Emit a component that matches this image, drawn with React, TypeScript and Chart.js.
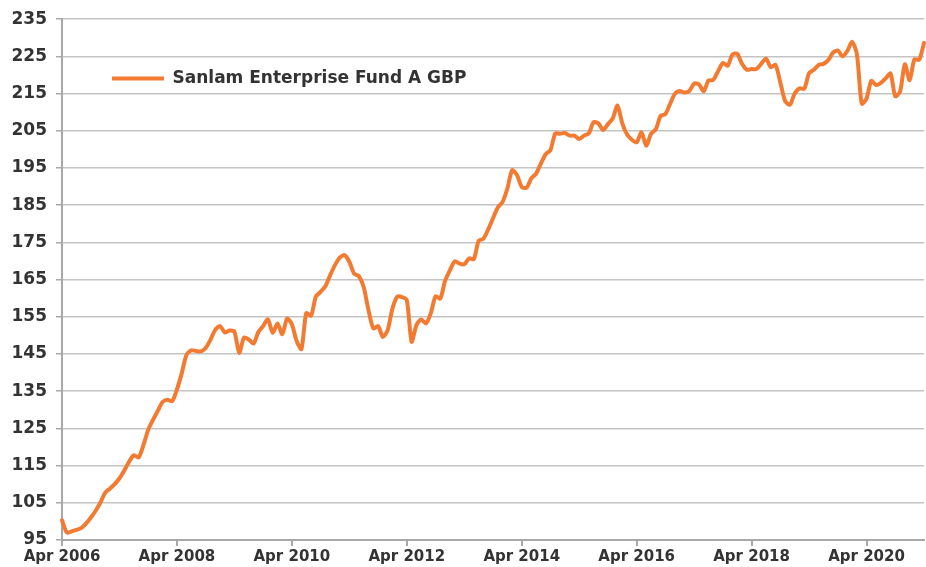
import { useEffect, useRef } from 'react';
import { Chart, registerables } from 'chart.js';

Chart.register(...registerables);

const SERIES_NAME = 'Sanlam Enterprise Fund A GBP';

const MONTH_NAMES = ['Jan', 'Feb', 'Mar', 'Apr', 'May', 'Jun', 'Jul', 'Aug', 'Sep', 'Oct', 'Nov', 'Dec'];
const START_YEAR = 2006;
const START_MONTH = 3; // April
const POINT_COUNT = 181; // Apr 2006 .. Apr 2021

const categories: string[] = [];
for (let i = 0; i < POINT_COUNT; i++) {
  const mm = START_MONTH + i;
  categories.push(`${MONTH_NAMES[mm % 12]} ${START_YEAR + Math.floor(mm / 12)}`);
}

// Monthly values, one row per year starting in April
const values2006 = [100.3, 97.0, 97.3, 97.7, 98.2, 99.4, 101.0, 102.8, 105.0, 107.7, 108.8, 110.0];
const values2007 = [111.6, 113.7, 116.0, 117.8, 117.2, 120.5, 124.6, 127.3, 129.7, 132.1, 132.7, 132.3];
const values2008 = [135.5, 139.8, 144.8, 146.0, 145.8, 145.7, 146.6, 148.8, 151.5, 152.5, 150.8, 151.3];
const values2009 = [151.0, 145.3, 149.4, 148.9, 147.8, 150.9, 152.5, 154.3, 150.7, 153.2, 150.3, 154.5];
const values2010 = [153.0, 148.5, 146.3, 156.0, 155.3, 160.4, 161.7, 163.2, 166.2, 168.9, 170.9, 171.6];
const values2011 = [169.8, 166.6, 165.9, 163.0, 156.8, 151.9, 152.5, 149.6, 151.4, 157.2, 160.4, 160.3];
const values2012 = [159.5, 148.3, 152.7, 154.3, 153.2, 155.9, 160.5, 159.9, 164.7, 167.5, 169.9, 169.3];
const values2013 = [169.1, 170.7, 170.5, 175.4, 176.0, 178.5, 181.5, 184.4, 185.9, 189.5, 194.4, 193.1];
const values2014 = [189.9, 189.7, 192.2, 193.5, 196.2, 198.7, 199.8, 204.3, 204.2, 204.4, 203.7, 203.7];
const values2015 = [202.8, 203.7, 204.3, 207.3, 207.0, 205.2, 206.8, 208.3, 211.8, 207.0, 204.0, 202.6];
const values2016 = [201.9, 204.6, 201.0, 204.2, 205.4, 209.0, 209.5, 212.3, 215.0, 215.7, 215.3, 215.7];
const values2017 = [217.7, 217.5, 215.6, 218.5, 218.7, 221.0, 223.2, 222.5, 225.5, 225.7, 223.0, 221.4];
const values2018 = [221.6, 221.6, 223.0, 224.4, 222.1, 222.7, 218.0, 213.0, 212.0, 215.0, 216.4, 216.3];
const values2019 = [220.5, 221.4, 222.7, 223.0, 224.0, 226.0, 226.6, 225.0, 226.5, 228.9, 225.5, 212.3];
const values2020 = [213.7, 218.4, 217.3, 217.9, 219.1, 220.4, 214.3, 215.5, 222.9, 218.6, 224.2, 224.1, 228.6];

const fundValues = [
  ...values2006, ...values2007, ...values2008, ...values2009, ...values2010,
  ...values2011, ...values2012, ...values2013, ...values2014, ...values2015,
  ...values2016, ...values2017, ...values2018, ...values2019, ...values2020,
];

const Y_MIN = 95;
const Y_MAX = 235;
const Y_STEP = 10;
const LABEL_EVERY = 24;

const LINE_COLOR = '#f37b31';
const TEXT_COLOR = '#333333';
const AXIS_COLOR = '#a8a8a8';
const GRID_COLOR = '#c4c4c4';
const FONT = "'DejaVu Sans', sans-serif";

// shifts the chart-area legend down to sit between the 225 and 215 gridlines
const legendOffset = {
  id: 'legendOffset',
  afterLayout(chart: any) {
    const lg = chart.legend;
    if (lg) {
      lg.top += 20;
      lg.bottom += 20;
    }
  },
};

export default function App() {
  const canvasRef = useRef<HTMLCanvasElement | null>(null);

  useEffect(() => {
    if (!canvasRef.current) return;
    const chart = new Chart(canvasRef.current, {
      type: 'line',
      data: {
        labels: categories,
        datasets: [
          {
            label: SERIES_NAME,
            data: fundValues,
            borderColor: LINE_COLOR,
            backgroundColor: LINE_COLOR,
            borderWidth: 4,
            pointRadius: 0,
            pointHoverRadius: 0,
            tension: 0.25,
            fill: false,
            borderJoinStyle: 'round',
            borderCapStyle: 'round',
          },
        ],
      },
      options: {
        animation: false,
        responsive: true,
        maintainAspectRatio: false,
        layout: { padding: { top: 19, right: 1, left: 0, bottom: 0 } },
        plugins: {
          tooltip: { enabled: false },
          legend: {
            position: 'chartArea',
            align: 'start',
            labels: {
              boxWidth: 52,
              boxHeight: 4,
              padding: 50,
              color: TEXT_COLOR,
              font: { family: FONT, size: 17, weight: 'bold' },
              generateLabels: (c: any) => {
                const base = Chart.defaults.plugins.legend.labels.generateLabels(c);
                return base.map((l: any) => ({ ...l, lineWidth: 0, fillStyle: LINE_COLOR }));
              },
            },
          },
        },
        scales: {
          x: {
            type: 'category',
            offset: false,
            grid: {
              drawOnChartArea: false,
              drawTicks: true,
              tickLength: 6,
              lineWidth: 2,
              color: (ctx: any) => (ctx.index % LABEL_EVERY === 0 ? AXIS_COLOR : 'rgba(0,0,0,0)'),
            },
            border: { color: AXIS_COLOR, width: 2 },
            ticks: {
              autoSkip: false,
              maxRotation: 0,
              minRotation: 0,
              padding: 2,
              color: TEXT_COLOR,
              font: { family: FONT, size: 15, weight: 'bold' },
              callback: (_v: any, i: number) =>
                i % LABEL_EVERY === 0 && i < POINT_COUNT - 1 ? categories[i] : '',
            },
            afterFit: (s: any) => {
              s.height = 27;
            },
          },
          y: {
            min: Y_MIN,
            max: Y_MAX,
            ticks: {
              stepSize: Y_STEP,
              padding: 9,
              color: TEXT_COLOR,
              font: { family: FONT, size: 17, weight: 'bold' },
            },
            grid: {
              color: GRID_COLOR,
              lineWidth: 1.5,
              tickLength: 6,
              tickColor: AXIS_COLOR,
            },
            border: { color: AXIS_COLOR, width: 2 },
            afterFit: (s: any) => {
              s.width = 62;
            },
          },
        },
      },
      plugins: [legendOffset],
    } as any);
    return () => chart.destroy();
  }, []);

  return (
    <div style={{ position: 'fixed', left: 0, top: 0, width: 926, height: 567, background: '#ffffff' }}>
      <canvas ref={canvasRef} />
    </div>
  );
}
